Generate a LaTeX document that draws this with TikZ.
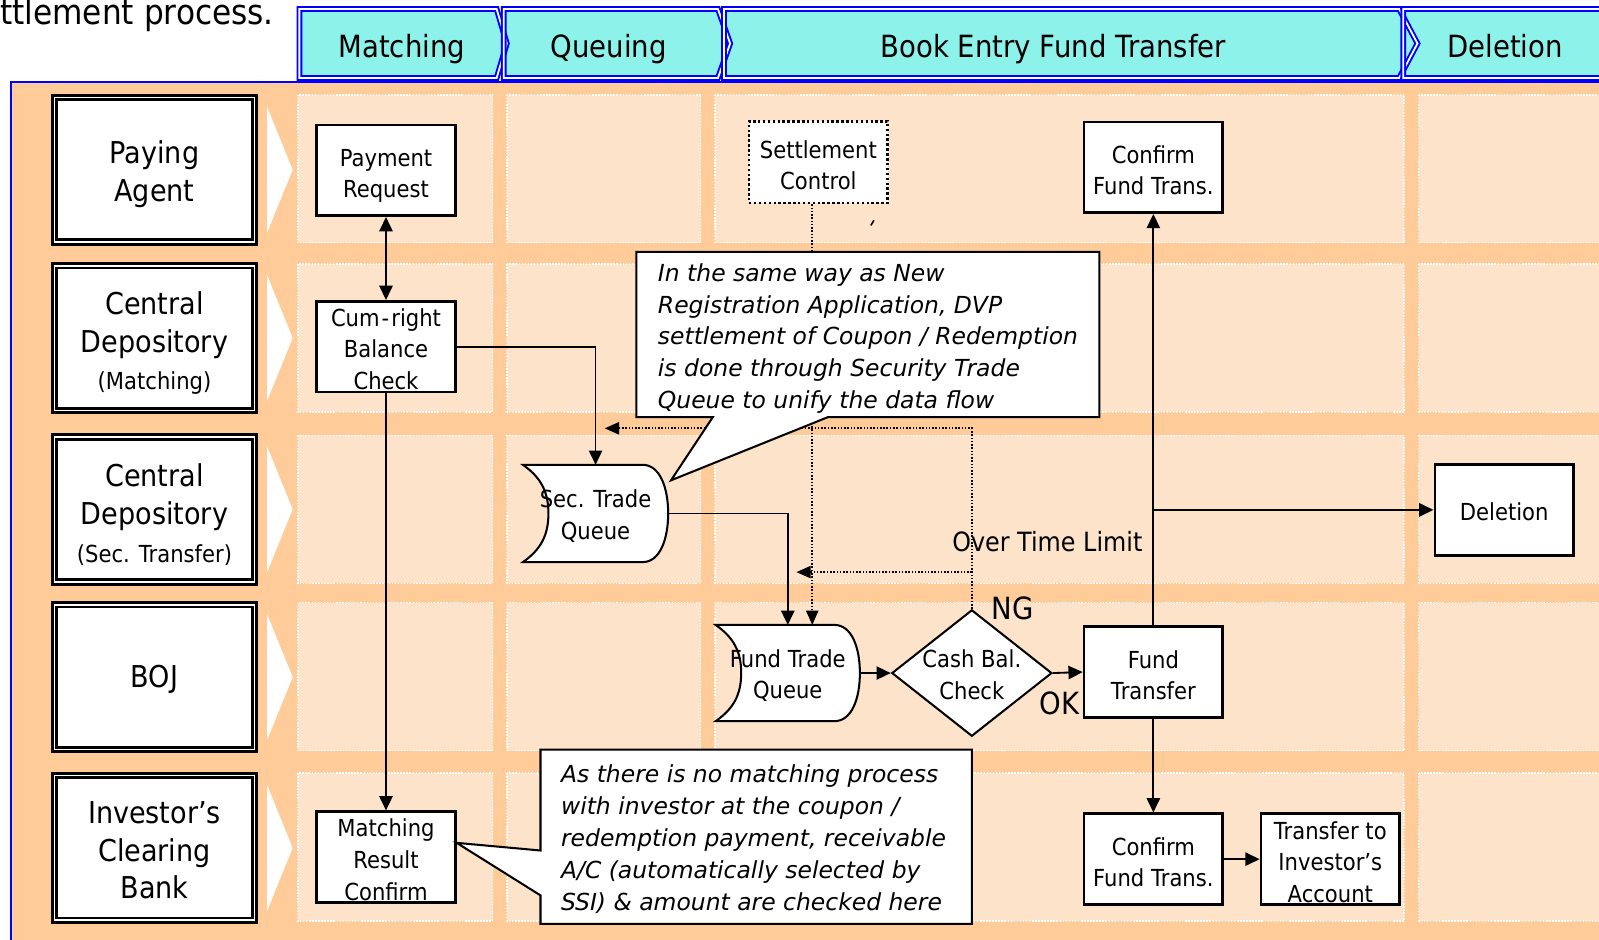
\documentclass[tikz,border=0pt]{standalone}
\usepackage{fontspec}
\setmainfont{DejaVu Sans}[FakeStretch=0.9]
\newfontfamily\notefamily{DejaVu Sans}[FakeStretch=1.0]
\usetikzlibrary{arrows.meta,shapes.geometric,calc}

\definecolor{peach}{RGB}{255,204,153}
\definecolor{cellpeach}{RGB}{253,227,202}
\definecolor{headcyan}{RGB}{140,242,234}
\definecolor{headblue}{RGB}{0,0,255}

\newcommand\fsTitle{\fontsize{34pt}{40pt}\selectfont}
\newcommand\fsHead{\fontsize{30pt}{36pt}\selectfont}
\newcommand\fsLane{\fontsize{29.5pt}{37pt}\selectfont}
\newcommand\fsLaneSmall{\fontsize{23pt}{30pt}\selectfont}
\newcommand\fsBox{\fontsize{23pt}{31pt}\selectfont}
\newcommand\fsNote{\notefamily\fontsize{23pt}{31.3pt}\selectfont\itshape}
\newcommand\fsMid{\fontsize{26pt}{31pt}\selectfont}
\newcommand\fsBig{\fontsize{30pt}{36pt}\selectfont}
% invisible strut that lowers the first line of a caption
\newcommand\lift[1]{\rule{0pt}{#1}}

% outline of a stored-data (queue) symbol around an empty node
\newcommand\queueoutline[1]{%
  \draw[line width=2pt, fill=white]
    (#1.north west)
      .. controls ($(#1.north west)+(17,12)$) and ($(#1.west)+(25,-22)$) .. ($(#1.west)+(25,0)$)
      .. controls ($(#1.west)+(25,22)$) and ($(#1.south west)+(17,-12)$) .. (#1.south west)
    -- ($(#1.south east)+(-25,0)$)
      .. controls ($(#1.south east)+(-8,0)$) and ($(#1.east)+(0,25)$) .. (#1.east)
      .. controls ($(#1.east)+(0,-25)$) and ($(#1.north east)+(-8,0)$) .. ($(#1.north east)+(-25,0)$)
    -- cycle;}

\begin{document}
\begin{tikzpicture}[x=1pt,y=-1pt,
  lanebox/.style={draw=black, line width=2.8pt, double=white, double distance=1.7pt,
    fill=white, minimum width=196pt, minimum height=142pt, inner sep=0pt,
    align=center, font=\fsLane},
  procbox/.style={draw=black, line width=2.6pt, fill=white, minimum width=136pt,
    minimum height=89pt, inner sep=0pt, align=center, font=\fsBox},
  ctrlbox/.style={procbox, minimum height=80pt, dash pattern=on 2.4pt off 2.4pt},
  queuebox/.style={minimum width=142pt, minimum height=95pt, inner sep=0pt},
  boxtext/.style={align=center, font=\fsBox, inner sep=0pt},
  headtext/.style={font=\fsHead, inner sep=0pt, anchor=base},
  notebox/.style={draw=black, line width=2pt, fill=white, line join=miter},
  notetext/.style={align=left, font=\fsNote, inner sep=0pt},
  cellbox/.style={fill=cellpeach, draw=white, line width=1.5pt, dash pattern=on 1.5pt off 1.5pt},
  flow/.style={line width=1.8pt, -{Triangle[length=14pt,width=13pt]}},
  flowboth/.style={line width=1.8pt, {Triangle[length=14pt,width=13pt]}-{Triangle[length=14pt,width=13pt]}},
  dotflow/.style={line width=1.6pt, dash pattern=on 1.5pt off 1.7pt,
    -{Triangle[length=14pt,width=12pt]}}
]
\useasboundingbox (0,0) rectangle (1568,921);
\clip (0,0) rectangle (1568,921);
\fill[white] (0,0) rectangle (1568,921);

% heading sentence, running in from the left edge
\node[font=\fsTitle, anchor=base west, inner sep=0pt] (title) at (0,24.5) {ttlement process.};

% swim-lane panel
\draw[headblue, line width=2pt, fill=peach] (11,80) rectangle (1600,960);

% cells of the grid
\foreach \xa/\xb in {292/483, 497/687, 701/1377, 1391/1620}
  \foreach \ya/\yb in {93/238, 259/404, 427/572, 591/736, 758/903}
    \path[cellbox] (\xa,\ya) rectangle (\xb,\yb);

% lane captions
\node[lanebox] (laneA) at (151.5,166.5) {\lift{30.5pt}Paying\\Agent};
\node[lanebox] (laneB) at (151.5,331.5) {\lift{32.5pt}Central\\Depository\\{\fsLaneSmall (Matching)}};
\node[lanebox] (laneC) at (151.5,499.5) {\lift{32.5pt}Central\\Depository\\{\fsLaneSmall (Sec. Transfer)}};
\node[lanebox] (laneD) at (151.5,664) {\lift{26.5pt}BOJ};
\node[lanebox] (laneE) at (151.5,831.5) {\lift{26.5pt}Investor’s\\Clearing\\Bank};
\foreach \yc in {166.5, 331.5, 499.5, 664, 831.5}
  \fill[white] (262,\yc-61.5) -- (287,\yc) -- (262,\yc+61.5) -- cycle;

% phase header
\foreach \l/\r/\t in {293.6/487/497, 494/704/716, 710/1372/1390, 1376/1620/1630}
  \fill[headcyan] (\l,8.8) -- (\r,8.8) -- (\t,42.65) -- (\r,76.5) -- (\l,76.5) -- cycle;
\foreach \l/\r/\t in {293.6/487/497, 494/704/716, 710/1372/1390, 1376/1620/1630}
  \draw[headblue, line width=1.9pt, double=white, double distance=1.8pt, line join=miter]
    (\l,8.8) -- (\r,8.8) -- (\t,42.65) -- (\r,76.5) -- (\l,76.5) -- cycle;
\node[headtext] (hMatch) at (394,56) {Matching};
\node[headtext] (hQueue) at (597,56) {Queuing};
\node[headtext] (hBook) at (1033,56) {Book Entry Fund Transfer};
\node[headtext] (hDel) at (1476,56) {Deletion};

% process steps
\node[procbox] (pr) at (378.5,167) {\lift{27.5pt}Payment\\Request};
\node[procbox] (cum) at (378.5,340) {\lift{22pt}Cum\kern2pt-\kern2pt right\\Balance\\Check};
\node[procbox] (mrc) at (378.5,840.5) {\lift{22.5pt}Matching\\Result\\Confirm};
\node[ctrlbox] (sc) at (802.5,159) {\lift{23.5pt}Settlement\\Control};
\node[procbox] (cftA) at (1131,164) {\lift{23.5pt}Confirm\\Fund Trans.};
\node[procbox] (ft) at (1131,659) {\lift{23.5pt}Fund\\Transfer};
\node[procbox] (del) at (1475,500) {\lift{21.5pt}Deletion};
\node[procbox] (cftB) at (1131,842.5) {\lift{23.5pt}Confirm\\Fund Trans.};
\node[procbox] (tia) at (1304.5,842.5) {\lift{23.5pt}Transfer to\\Investor’s\\Account};

% queues
\node[queuebox] (stq) at (584,503.5) {};
\queueoutline{stq}
\node[boxtext] (stqtext) at (584,506) {Sec. Trade\\Queue};
\node[queuebox, minimum width=141pt, minimum height=94pt] (ftq) at (772.5,660) {};
\queueoutline{ftq}
\node[boxtext] (ftqtext) at (772.5,662.5) {Fund Trade\\Queue};

% balance check
\node[diamond, draw=black, line width=2pt, fill=white, minimum width=157pt,
      minimum height=124pt, inner sep=0pt] (cash) at (953,660) {};
\node[boxtext] (cashtext) at (953,661.5) {Cash Bal.\\Check};

% labels
\node[font=\fsMid, inner sep=0pt] (otl) at (1027,531) {Over Time Limit};
\node[font=\fsBig, inner sep=0pt] (ng) at (993,597) {NG};
\node[font=\fsBig, inner sep=0pt] (ok) at (1039,690) {OK};

% solid flow
\draw[flowboth] (pr.south) -- (cum.north);
\draw[flow] (cum.east) -| (stq.north);
\draw[flow] (cum.south) -- (mrc.north);
\draw[flow] (stq.east) -| (ftq.north);
\draw[flow] (ftq.east) -- (cash.west);
\draw[flow] (cash.east) -- (ft.west);
\draw[flow] (ft.north) -- (cftA.south);
\draw[flow] (ft.north |- del.west) -- (del.west);
\draw[flow] (ft.south) -- (cftB.north);
\draw[flow] (cftB.east) -- (tia.west);

% control and time-out paths
\coordinate (scfoot) at ([xshift=-6pt]sc.south);
\draw[dotflow] (scfoot) -- (scfoot |- ftq.north);
\coordinate (ngA) at (593,420);
\coordinate (ngB) at (781,561);
\draw[dotflow] (cash.north) |- (ngA);
\draw[dotflow] (cash.north |- ngB) -- (ngB);

% small stray mark
\draw[line width=1.6pt] (854,221) -- (857,216);

% notes
\draw[notebox] (624,247) -- (1078,247) -- (1078,409) -- (812,409) -- (658,471)
  -- (699,409) -- (624,409) -- cycle;
\node[notetext, anchor=north west] (noteA) at (645,258)
  {In the same way as New\\Registration Application, DVP\\settlement of Coupon / Redemption\\is done through Security Trade\\Queue to unify the data flow};
\draw[notebox] (530,735) -- (953,735) -- (953,906) -- (530,906) -- (530,878)
  -- ([yshift=14pt]mrc.east) -- (530,834) -- cycle;
\node[notetext, anchor=north west] (noteB) at (550,750)
  {As there is no matching process\\with investor at the coupon /\\redemption payment, receivable\\A/C (automatically selected by\\SSI) \& amount are checked here};
\end{tikzpicture}
\end{document}
